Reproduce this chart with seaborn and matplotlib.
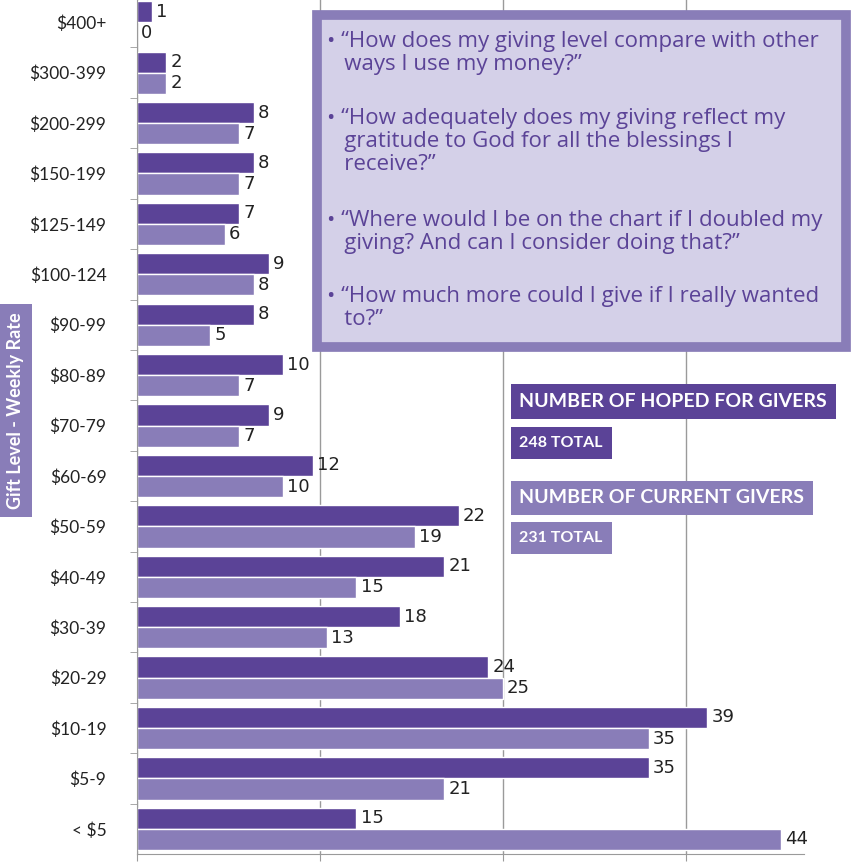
import pandas as pd
import matplotlib.pyplot as plt
import seaborn as sns

# gift levels, top to bottom
levels = ["$400+", "$300-399", "$200-299", "$150-199", "$125-149", "$100-124",
          "$90-99", "$80-89", "$70-79", "$60-69", "$50-59", "$40-49",
          "$30-39", "$20-29", "$10-19", "$5-9", "< $5"]
hoped = [1, 2, 8, 8, 7, 9, 8, 10, 9, 12, 22, 21, 18, 24, 39, 35, 15]
current = [0, 2, 7, 7, 6, 8, 5, 7, 7, 10, 19, 15, 13, 25, 35, 21, 44]
series = ["Hoped", "Current"]
questions = [
    "\u2022 \u201cHow does my giving level compare with other\n   ways I use my money?\u201d",
    "\u2022 \u201cHow adequately does my giving reflect my\n   gratitude to God for all the blessings I\n   receive?\u201d",
    "\u2022 \u201cWhere would I be on the chart if I doubled my\n   giving? And can I consider doing that?\u201d",
    "\u2022 \u201cHow much more could I give if I really wanted\n   to?\u201d",
]

dark = "#5B4397"
light = "#897DB8"
pale = "#D4D0E8"

df = pd.DataFrame({
    "level": levels * 2,
    "givers": hoped + current,
    "series": [series[0]] * len(levels) + [series[1]] * len(levels),
})

sns.set_style("white")
plt.rcParams["font.family"] = ["Lato", "DejaVu Sans"]

fig = plt.figure(figsize=(8.53, 8.63), dpi=100)
ax = fig.add_axes([0.1606, 0.0104, 0.782, 0.993])

sns.barplot(data=df, y="level", x="givers", hue="series", orient="h",
            palette=[dark, light], width=0.84, gap=0, legend=False, ax=ax,
            saturation=1, order=levels)

for cont in ax.containers:
    ax.bar_label(cont, padding=3, fontsize=13, color="#222222",
                 family=["Liberation Sans Narrow", "DejaVu Sans"])

ax.set_xlim(0, 45.6)
ax.set_ylim(len(levels) - 0.5, -0.5)
ax.set_xticks([0, 12.5, 25, 37.5])
ax.set_xticklabels([])
ax.xaxis.grid(True, color="#9a9a9a", lw=1)
ax.set_axisbelow(True)
ax.tick_params(axis="x", bottom=True, length=5, color="#9a9a9a", direction="out")
ax.tick_params(axis="y", which="major", length=0, labelsize=12.5, pad=22,
               labelcolor="#222222")
ax.set_yticks([i + 0.5 for i in range(len(levels) - 1)], minor=True)
ax.tick_params(axis="y", which="minor", left=True, length=5, color="#9a9a9a",
               direction="out")
ax.set_xlabel("")
ax.set_ylabel("")
for s in ["top", "right"]:
    ax.spines[s].set_visible(False)
for s in ["left", "bottom"]:
    ax.spines[s].set_color("#9a9a9a")

# side label
fig.text(0.0176, 0.524, "Gift Level - Weekly Rate", rotation=90, color="white",
         fontsize=13, fontweight="bold", ha="center", va="center",
         bbox=dict(boxstyle="square,pad=0.45", fc=light, ec="none"))

# question box
box = plt.Rectangle((0.372, 0.598), 0.62, 0.385, transform=fig.transFigure,
                    fc=pale, ec=light, lw=7, zorder=5)
fig.patches.append(box)
ys = [0.964, 0.875, 0.757, 0.669]
for y, q in zip(ys, questions):
    fig.text(0.383, y, q, fontsize=16, color=dark, va="top", ha="left",
             linespacing=1.12, zorder=6, family=["Open Sans", "DejaVu Sans"])

# legend labels
fig.text(0.609, 0.5348, "NUMBER OF HOPED FOR GIVERS", color="white", fontsize=14,
         fontweight="bold", va="center",
         bbox=dict(boxstyle="square,pad=0.45", fc=dark, ec="none"))
fig.text(0.609, 0.4867, "248 TOTAL", color="white", fontsize=11.5,
         fontweight="bold", va="center",
         bbox=dict(boxstyle="square,pad=0.55", fc=dark, ec="none"))
fig.text(0.609, 0.423, "NUMBER OF CURRENT GIVERS", color="white", fontsize=14,
         fontweight="bold", va="center",
         bbox=dict(boxstyle="square,pad=0.45", fc=light, ec="none"))
fig.text(0.609, 0.3766, "231 TOTAL", color="white", fontsize=11.5,
         fontweight="bold", va="center",
         bbox=dict(boxstyle="square,pad=0.55", fc=light, ec="none"))

fig.savefig("out.png", dpi=100)
